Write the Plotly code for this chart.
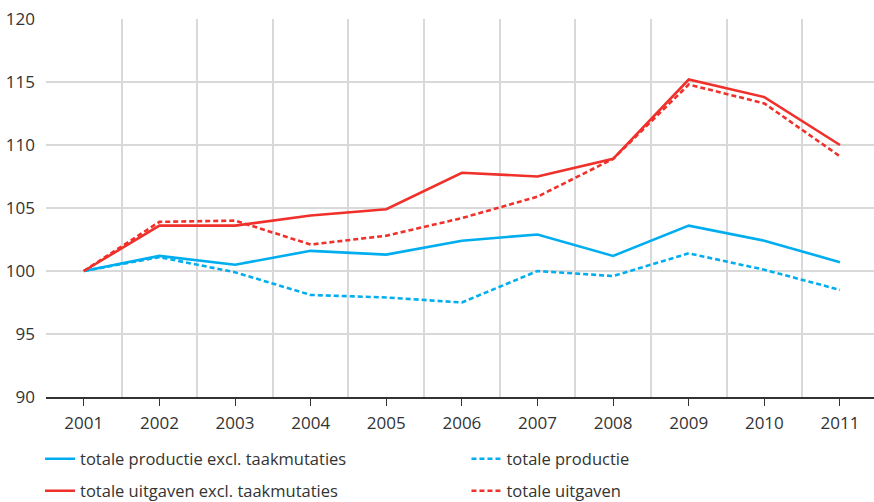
import plotly.graph_objects as go

years = [2001, 2002, 2003, 2004, 2005, 2006, 2007, 2008, 2009, 2010, 2011]
prod_excl = [100, 101.2, 100.5, 101.6, 101.3, 102.4, 102.9, 101.2, 103.6, 102.4, 100.7]
prod_tot = [100, 101.1, 99.9, 98.1, 97.9, 97.5, 100.0, 99.6, 101.4, 100.1, 98.5]
uitg_excl = [100, 103.6, 103.6, 104.4, 104.9, 107.8, 107.5, 108.9, 115.2, 113.8, 110.0]
uitg_tot = [100, 103.9, 104.0, 102.1, 102.8, 104.2, 105.9, 108.9, 114.8, 113.3, 109.1]
y_ticks = [90, 95, 100, 105, 110, 115, 120]

BLUE = "#00AEEF"
RED = "#F0302A"
FONT = "Open Sans"
TXT = "#333333"
DASH = "5px,3px"

fig = go.Figure()
fig.add_trace(go.Scatter(x=years, y=prod_excl, mode="lines", name="totale productie excl. taakmutaties",
                         line=dict(color=BLUE, width=2.6), legend="legend"))
fig.add_trace(go.Scatter(x=years, y=prod_tot, mode="lines", name="totale productie",
                         line=dict(color=BLUE, width=2.6, dash=DASH), legend="legend2"))
fig.add_trace(go.Scatter(x=years, y=uitg_excl, mode="lines", name="totale uitgaven excl. taakmutaties",
                         line=dict(color=RED, width=2.6), legend="legend3"))
fig.add_trace(go.Scatter(x=years, y=uitg_tot, mode="lines", name="totale uitgaven",
                         line=dict(color=RED, width=2.6, dash=DASH), legend="legend4"))

boundaries = [y - 0.5 for y in years] + [years[-1] + 0.5]

leg_common = dict(orientation="h", xanchor="left", xref="container",
                  yref="container", yanchor="middle", itemwidth=30,
                  font=dict(family=FONT, size=16.5, color=TXT), bgcolor="rgba(0,0,0,0)")
COL1, COL2 = 0.0458, 0.5337
ROW1, ROW2 = 0.0857, 0.0219

fig.update_layout(
    width=874, height=502,
    margin=dict(l=46, r=0, t=19, b=105, autoexpand=False),
    plot_bgcolor="white", paper_bgcolor="white",
    font=dict(family=FONT, size=17, color=TXT),
    showlegend=True,
    legend=dict(**leg_common, x=COL1, y=ROW1),
    legend2=dict(**leg_common, x=COL2, y=ROW1),
    legend3=dict(**leg_common, x=COL1, y=ROW2),
    legend4=dict(**leg_common, x=COL2, y=ROW2),
    xaxis=dict(
        range=[2000.5, 2011.45], tickvals=years, ticktext=[str(y) for y in years],
        ticks="outside", ticklen=7, tickcolor="#333333", tickwidth=1.2,
        showgrid=False, zeroline=False, automargin=False,
        showline=True, linecolor="#333333", linewidth=1.5,
        ticklabelstandoff=3,
        minor=dict(tickvals=boundaries, showgrid=True, gridcolor="#d9d9d9", gridwidth=1.5, ticks=""),
        tickfont=dict(family=FONT, size=17, color=TXT),
    ),
    yaxis=dict(
        range=[90, 120], tickvals=y_ticks, showgrid=True, gridcolor="#d9d9d9", gridwidth=1.5,
        zeroline=False, showline=False, ticks="", ticklabelstandoff=10, automargin=False,
        tickfont=dict(family=FONT, size=17, color=TXT),
    ),
)

fig.write_html("out.html", config={"displayModeBar": False},
               post_script="document.body.style.margin='0';document.body.style.overflow='hidden';")
